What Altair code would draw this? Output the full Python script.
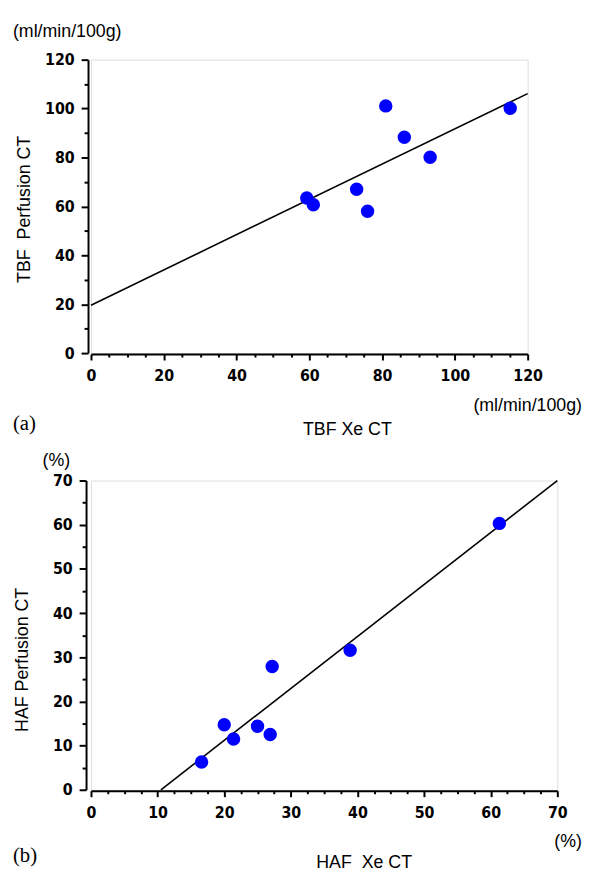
import altair as alt
import pandas as pd

# ---------- panel (a): TBF ----------
tbf_xe = [81.0, 86.1, 93.2, 115.2, 59.3, 61.1, 73.0, 76.0]
tbf_perf = [101.1, 88.3, 80.1, 100.1, 63.4, 60.7, 67.0, 58.0]
tbf_line_x = [0, 120]
tbf_line_y = [19.6, 106.1]
tbf_x_ticks = [0, 5, 10, 15, 20, 25, 30, 35, 40, 45, 50, 55, 60, 65, 70, 75, 80,
               85, 90, 95, 100, 105, 110, 115, 120]
tbf_y_ticks = [0, 10, 20, 30, 40, 50, 60, 70, 80, 90, 100, 110, 120]

# ---------- panel (b): HAF ----------
haf_xe = [61.3, 38.9, 27.2, 20.0, 25.0, 26.9, 21.4, 16.6]
haf_perf = [60.3, 31.6, 27.9, 14.7, 14.4, 12.5, 11.5, 6.3]
haf_line_x = [10.5, 70]
haf_line_y = [0, 70]
haf_x_ticks = [0, 2.5, 5, 7.5, 10, 12.5, 15, 17.5, 20, 22.5, 25, 27.5, 30, 32.5, 35,
               37.5, 40, 42.5, 45, 47.5, 50, 52.5, 55, 57.5, 60, 62.5, 65, 67.5, 70]
haf_y_ticks = [0, 5, 10, 15, 20, 25, 30, 35, 40, 45, 50, 55, 60, 65, 70]

LABEL_FONT = "DejaVu Sans Condensed, Roboto, Liberation Sans, sans-serif"
TEXT_FONT = "Liberation Sans, Arial, sans-serif"
SERIF = "Liberation Serif, Times New Roman, serif"
NBSP = "\u00a0"


def make_axis(values, major, major_len, minor_len, pad, offset, title, tx, ty):
    return alt.Axis(
        values=values,
        labelExpr=f"datum.value % {major} === 0 ? datum.label : ''",
        tickSize={"condition": {"test": f"datum.value % {major} === 0", "value": major_len},
                  "value": minor_len},
        labelPadding=pad,
        offset=offset,
        grid=False,
        domainColor="black",
        domainWidth=2,
        tickColor="black",
        tickWidth=2,
        labelFont=LABEL_FONT,
        labelFontSize=16,
        labelFontWeight="bold",
        labelColor="black",
        labelOverlap=False,
        labelFlush=False,
        title=title,
        titleFont=TEXT_FONT,
        titleFontSize=18,
        titleFontWeight="normal",
        titleColor="black",
        titleX=tx,
        titleY=ty,
        titleAlign="center",
        titleBaseline="middle",
    )


def note(text, x, y, align, font, size):
    return alt.Chart(pd.DataFrame({"t": [text]})).mark_text(
        align=align, baseline="middle", font=font, fontSize=size, color="black"
    ).encode(x=alt.value(x), y=alt.value(y), text="t:N")


def panel(xs, ys, lx, ly, xdom, ydom, xticks, yticks, xmajor, ymajor,
          xtitle, ytitle, xt, yt, w, h, yoff, unit, unit_left_x, unit_left_y,
          unit_right_y, tag, tag_y):
    pts = pd.DataFrame({"x": xs, "y": ys})
    ln = pd.DataFrame({"x": lx, "y": ly})
    xenc = alt.X("x:Q", scale=alt.Scale(domain=xdom, nice=False, zero=False),
                 axis=make_axis(xticks, xmajor, 6, 3, 8, 1, xtitle, xt[0], xt[1]))
    yenc = alt.Y("y:Q", scale=alt.Scale(domain=ydom, nice=False, zero=False),
                 axis=make_axis(yticks, ymajor, 7, 4, 7, yoff, ytitle, yt[0], yt[1]))
    line = alt.Chart(ln).mark_line(color="black", strokeWidth=1.6).encode(x=xenc, y=yenc)
    dots = alt.Chart(pts).mark_circle(size=185, color="#0000ff", opacity=1).encode(x=xenc, y=yenc)
    return alt.layer(
        line, dots,
        note(unit, unit_left_x, unit_left_y, "left", TEXT_FONT, 18),
        note(unit, 497, unit_right_y, "right", TEXT_FONT, 18),
        note(tag, -79, tag_y, "left", SERIF, 21),
    ).properties(width=w, height=h)


top = panel(tbf_xe, tbf_perf, tbf_line_x, tbf_line_y, [0, 120], [0, 120],
            tbf_x_ticks, tbf_y_ticks, 20, 20,
            "TBF Xe CT", "TBF" + NBSP + NBSP + "Perfusion CT", (259, 76), (-64, 151),
            442, 297, 3, "(ml/min/100g)", -79, -28, 351, "(a)", 369)

bottom = panel(haf_xe, haf_perf, haf_line_x, haf_line_y, [0, 70], [0, 70],
               haf_x_ticks, haf_y_ticks, 10, 10,
               "HAF" + NBSP + NBSP + "Xe CT", "HAF Perfusion CT", (276, 73), (-64, 181),
               472, 313, 5, "(%)", -49, -20, 366, "(b)", 380)

chart = alt.vconcat(top, bottom, spacing=129, bounds="flush").properties(
    padding={"left": 4, "top": 9, "right": 0, "bottom": 0}
).configure_view(stroke=None).configure(background="white")

chart.save("out.html", embed_options={"renderer": "svg", "actions": False})
